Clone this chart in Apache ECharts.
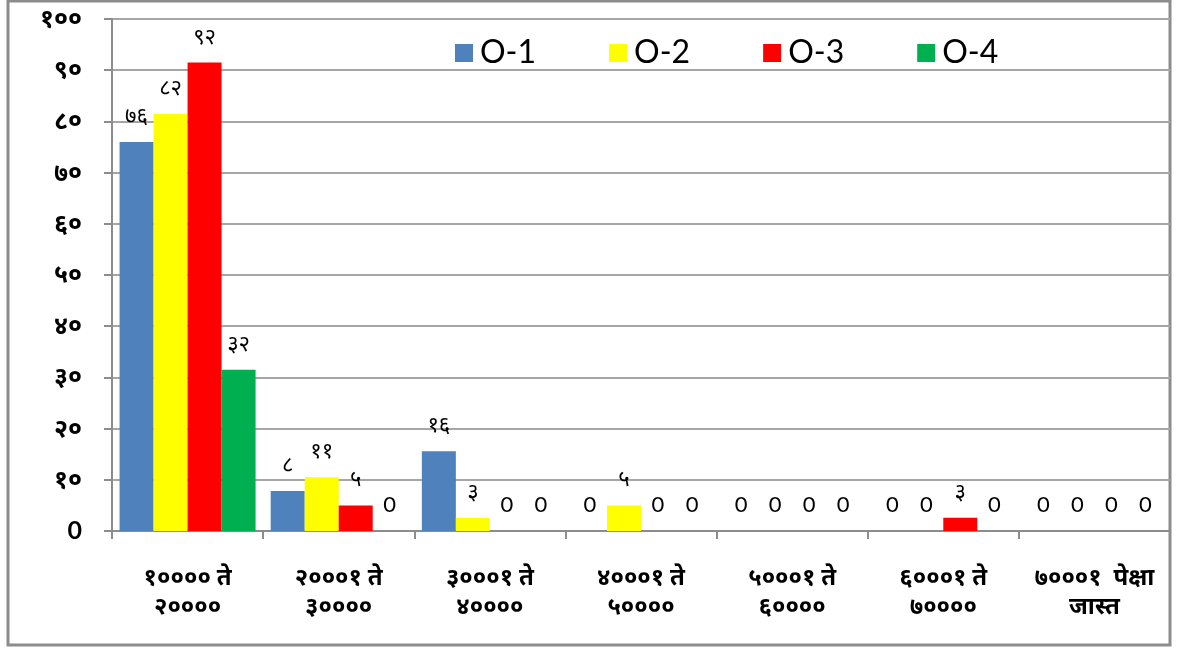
<!DOCTYPE html>
<html>
<head>
<meta charset="utf-8">
<script src="https://cdn.jsdelivr.net/npm/echarts@6/dist/echarts.min.js"></script>
<style>
html,body{margin:0;padding:0;background:#fff;}
#chart{width:1186px;height:648px;}
</style>
</head>
<body>
<div id="chart"></div>
<script>
var categories = ['१०००० ते\n२००००', '२०००१ ते\n३००००', '३०००१ ते\n४००००', '४०००१ ते\n५००००', '५०००१ ते\n६००००', '६०००१ ते\n७००००', '७०००१  पेक्षा\nजास्त'];
var seriesNames = ['O-1', 'O-2', 'O-3', 'O-4'];
var o1 = [76, 7.8, 15.6, 0, 0, 0, 0];
var o2 = [81.5, 10.5, 2.6, 5, 0, 0, 0];
var o3 = [91.5, 5, 0, 0, 0, 2.6, 0];
var o4 = [31.5, 0, 0, 0, 0, 0, 0];
var colors = ['#4f81bd', '#ffff00', '#ff0000', '#00b050'];
var devDigits = ['०','१','२','३','४','५','६','७','८','९'];

function toDev(n) {
  return String(n).replace(/[0-9]/g, function (d) { return devDigits[+d]; });
}

var chart = echarts.init(document.getElementById('chart'));
var font = 'Lato, "Noto Sans", sans-serif';
var dataSets = [o1, o2, o3, o4];
var series = dataSets.map(function (d, i) {
  return {
    name: seriesNames[i],
    type: 'bar',
    data: d,
    barGap: '0%',
    barCategoryGap: '10%',
    itemStyle: { color: colors[i] },
    label: {
      show: true,
      position: 'top',
      distance: 15,
      color: '#000',
      fontSize: 22,
      fontFamily: font,
      formatter: function (p) { return p.value === 0 ? '0' : toDev(Math.round(p.value)); }
    }
  };
});

chart.setOption({
  animation: false,
  textStyle: { fontFamily: font },
  graphic: [{
    type: 'rect',
    shape: { x: 8, y: 1, width: 1162, height: 644 },
    style: { fill: 'none', stroke: '#8c8c8c', lineWidth: 3 },
    silent: true
  }],
  legend: {
    top: 32,
    left: 450,
    itemWidth: 18,
    itemHeight: 18,
    itemGap: 73,
    icon: 'rect',
    textStyle: { fontSize: 32, color: '#000', fontFamily: font, padding: [0,0,0,2] },
    data: seriesNames
  },
  grid: { left: 112, right: 16, top: 19, bottom: 117, containLabel: false },
  xAxis: {
    type: 'category',
    data: categories,
    axisLine: { lineStyle: { color: '#8c8c8c', width: 2 } },
    axisTick: { show: true, length: 8, lineStyle: { color: '#8c8c8c', width: 2 } },
    axisLabel: {
      interval: 0,
      margin: 32,
      fontSize: 24,
      fontWeight: 'bold',
      lineHeight: 29,
      color: '#000',
      fontFamily: font
    }
  },
  yAxis: {
    type: 'value',
    min: 0,
    max: 100,
    interval: 10,
    axisLine: { show: true, lineStyle: { color: '#8c8c8c', width: 2 } },
    axisTick: { show: true, length: 8, lineStyle: { color: '#8c8c8c', width: 2 } },
    splitLine: { lineStyle: { color: '#a6a6a6', width: 2 } },
    axisLabel: {
      margin: 30,
      fontSize: 25,
      fontWeight: 'bold',
      color: '#000',
      fontFamily: font,
      formatter: function (v) { return v === 0 ? '0' : toDev(v); }
    }
  },
  series: series
});
</script>
</body>
</html>
